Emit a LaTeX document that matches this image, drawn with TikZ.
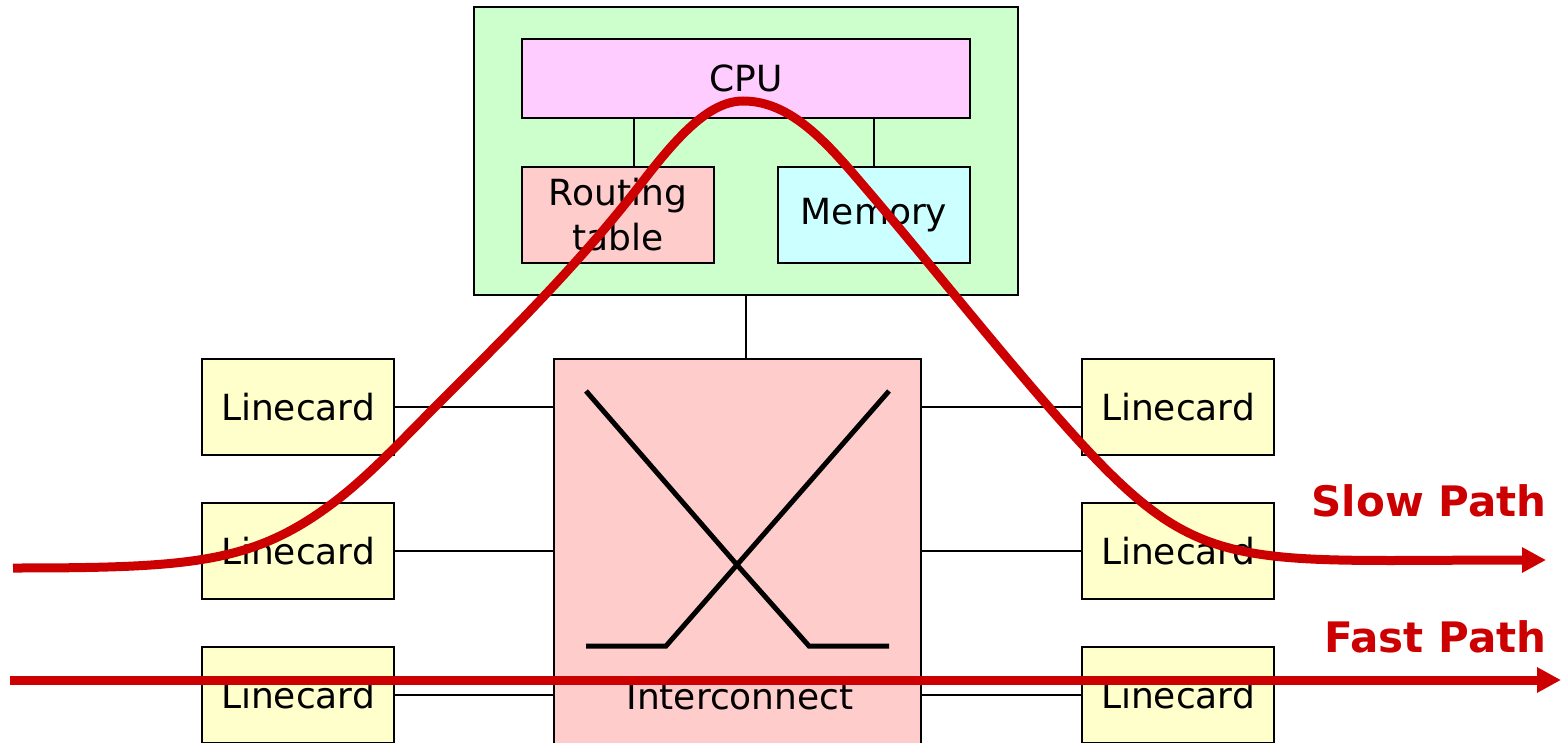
\documentclass[tikz,border=0pt]{standalone}
\usepackage{fontspec}
\setmainfont{DejaVu Sans}
\usetikzlibrary{arrows.meta}
\definecolor{routergreen}{HTML}{CCFFCC}
\definecolor{cpupink}{HTML}{FFCCFF}
\definecolor{tablered}{HTML}{FFCCCC}
\definecolor{memcyan}{HTML}{CCFFFF}
\definecolor{cardyellow}{HTML}{FFFFCC}
\definecolor{pathred}{HTML}{CC0000}
\def\leftcards{{(298,407)/l1}, {(298,551)/l2}, {(298,695)/l3}}
\def\rightcards{{(1178,407)/r1}, {(1178,551)/r2}, {(1178,695)/r3}}
\tikzstyle{box}=[draw,line width=1pt,inner sep=0pt,align=center,font=\fontsize{18}{22.5}\selectfont]
\tikzstyle{linecard}=[box,fill=cardyellow,minimum width=96pt,minimum height=48pt]
\tikzstyle{wire}=[draw,line width=1pt,-]
\tikzstyle{xbar}=[draw,line width=2.5pt,-]
\tikzstyle{redpath}=[draw,line width=4.5pt,pathred,-{Triangle[length=12pt,width=12pt]}]
\tikzstyle{pathlabel}=[text=pathred,inner sep=0pt,font=\bfseries\fontsize{21}{25}\selectfont]

\begin{document}
\begin{tikzpicture}[x=0.5pt,y=-0.5pt]
  \clip (0,0) rectangle (1562,743);

  % Route processor with its parts
  \node[box,fill=routergreen,minimum width=272pt,minimum height=144pt] (router) at (746,151) {};
  \node[box,fill=cpupink,minimum width=224pt,minimum height=39.5pt] (cpu) at (746,78.5) {CPU};
  \node[box,fill=tablered,minimum width=96pt,minimum height=48pt] (rt) at (618,215) {Routing\\table};
  \node[box,fill=memcyan,minimum width=96pt,minimum height=48pt] (mem) at (874,215) {Memory};
  \path[wire] ([xshift=8pt]rt.north) -- ([xshift=8pt]rt.north |- cpu.south);
  \path[wire] (mem.north) -- (mem.north |- cpu.south);

  % Switch fabric
  \node[box,fill=tablered,minimum width=183.5pt,minimum height=195pt] (icn) at (737.5,554) {};
  \node[box,draw=none] (icnlabel) at (740,697) {Interconnect};
  \path[wire] (router.south) -- (router.south |- icn.north);
  \path[xbar] (586,391) -- (738,566) -- (809,646) -- (889,646);
  \path[xbar] (889,391) -- (666,646) -- (586,646);

  % Linecards on both sides
  \foreach \pos/\name in \leftcards {
    \node[linecard] (\name) at \pos {Linecard};
    \path[wire] (\name.east) -- (\name.east -| icn.west);
  }
  \foreach \pos/\name in \rightcards {
    \node[linecard] (\name) at \pos {Linecard};
    \path[wire] (\name.west) -- (\name.west -| icn.east);
  }

  % The two paths
  \coordinate (slowin) at (13,568);
  \coordinate (slowtop) at (743,101);
  \coordinate (slowout) at (1546,560);
  \coordinate (fastin) at (10,680);
  \coordinate (fastout) at (1561,680);
  \path[redpath] (slowin) .. controls (193,568) and (253,563) .. (333,503)
    .. controls (368,476.75) and (402,440) .. (437,405)
    .. controls (507,335) and (580,263) .. (640,185)
    .. controls (675,139.5) and (708,101) .. (slowtop)
    .. controls (783,101) and (815,129.75) .. (850,170)
    .. controls (915,245) and (982,330.25) .. (1047,405)
    .. controls (1197,577.5) and (1216,560) .. (slowout);
  \path[redpath] (fastin) -- (fastout);
  \node[pathlabel,anchor=base east] (slowlbl) at (1547,516) {Slow Path};
  \node[pathlabel,anchor=base east] (fastlbl) at (1547,652) {Fast Path};
\end{tikzpicture}
\end{document}
